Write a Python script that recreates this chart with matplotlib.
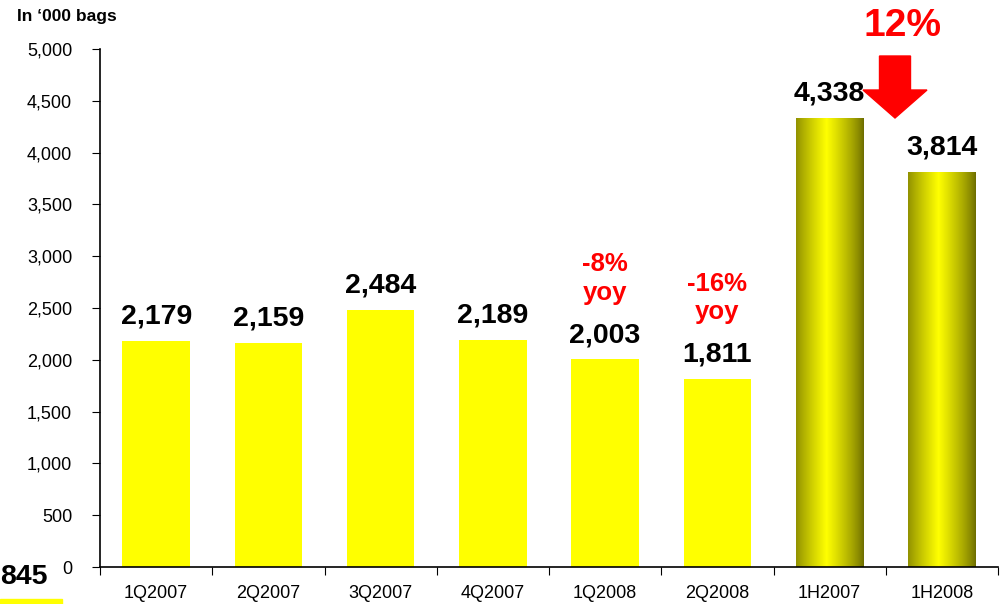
import numpy as np
import matplotlib.pyplot as plt
from matplotlib.patches import Rectangle, FancyArrow
from matplotlib.ticker import FuncFormatter

plt.rcParams['font.family'] = ['Liberation Sans', 'DejaVu Sans']

categories = ['1Q2007', '2Q2007', '3Q2007', '4Q2007', '1Q2008', '2Q2008', '1H2007', '1H2008']
volumes = [2179, 2159, 2484, 2189, 2003, 1811, 4338, 3814]
gradient_bars = [False, False, False, False, False, False, True, True]
yoy_labels = {4: '-8%\nyoy', 5: '-16%\nyoy'}
half_change = '12%'
legend_value = '845'

fig = plt.figure(figsize=(10.01, 6.04), dpi=100)
ax = fig.add_axes([100 / 1001, 37 / 604, 898 / 1001, 518 / 604])

x = np.arange(len(categories))
bars = ax.bar(x, volumes, width=0.6, color='#ffff00', edgecolor='none', zorder=2)

# shaded look for the half-year bars
shade = np.linspace(0, 1, 256)
prof = np.clip(1 - np.abs(shade - 0.45) / 0.55, 0, 1) ** 0.8
cols = np.zeros((1, 256, 3))
dark = np.array([0.42, 0.42, 0.0])
bright = np.array([1.0, 1.0, 0.0])
cols[0] = dark + (bright - dark) * prof[:, None]
for b, g in zip(bars, gradient_bars):
    if g:
        b.set_facecolor('none')
        x0, w, h = b.get_x(), b.get_width(), b.get_height()
        im = ax.imshow(cols, extent=[x0, x0 + w, 0, h], aspect='auto', zorder=2)
        im.set_clip_path(b)

for xi, v in zip(x, volumes):
    ax.text(xi, v + 110, f'{v:,}', ha='center', va='bottom', fontsize=20.5,
            fontweight='bold', color='black', zorder=4)

for i, txt in yoy_labels.items():
    ax.text(i, volumes[i] + 530, txt, ha='center', va='bottom', fontsize=18.5,
            fontweight='bold', color='red', linespacing=1.25)

ax.set_xlim(-0.5, len(categories) - 0.5)
ax.set_ylim(0, 5000)
ax.set_yticks(np.arange(0, 5001, 500))
ax.yaxis.set_major_formatter(FuncFormatter(lambda v, p: f'{int(v):,}'))
ax.set_xticks(np.arange(-0.5, len(categories), 1))
ax.set_xticklabels([])
ax.set_xticks(x, minor=True)
ax.set_xticklabels(categories, minor=True)
ax.tick_params(axis='x', which='minor', length=0, labelsize=13, pad=13)
ax.tick_params(axis='x', which='major', length=6, direction='out')
ax.tick_params(axis='y', length=6, direction='out', labelsize=13, pad=14)
for s in ['top', 'right']:
    ax.spines[s].set_visible(False)
ax.spines['left'].set_linewidth(1.2)
ax.spines['bottom'].set_linewidth(1.2)

fig.text(17 / 1001, 1 - 17 / 604, "In \u2018000 bags", fontsize=12.5, fontweight='bold',
         ha='left', va='center')

# red arrow and change label
fig.text(903 / 1001, 1 - 26 / 604, half_change, fontsize=28, fontweight='bold',
         color='red', ha='center', va='center')
arr = FancyArrow(895 / 1001, 1 - 56 / 604, 0, -62 / 604, width=31 / 1001,
                 head_width=64 / 1001, head_length=28 / 604, length_includes_head=True,
                 color='red', transform=fig.transFigure)
fig.add_artist(arr)

# legend remnant at bottom-left
fig.text(0, 1 - 577 / 604, legend_value, fontsize=20.5, fontweight='bold',
         ha='left', va='center')
fig.add_artist(Rectangle((0, 0), 62 / 1001, 5 / 604, color='#ffff00',
                         transform=fig.transFigure))

fig.savefig('out.png', dpi=100)
